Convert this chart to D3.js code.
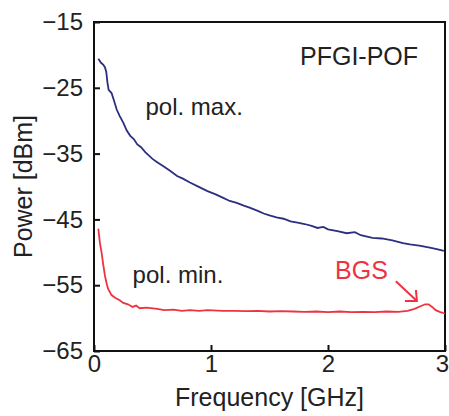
<!DOCTYPE html>
<html>
<head>
<meta charset="utf-8">
<script src="https://cdn.jsdelivr.net/npm/d3@7"></script>
<style>
  body { margin: 0; background: #fff; }
  text { font-family: 'Liberation Sans', Arial, sans-serif; fill: #222; }
</style>
</head>
<body>
<div id="chart"></div>
<script>
// frequency [GHz] and power [dBm]
let maxFreq = [0.037, 0.06, 0.08, 0.094, 0.105, 0.115, 0.125, 0.15, 0.17, 0.194, 0.22, 0.25, 0.28, 0.31, 0.34,
  0.37, 0.40, 0.44, 0.50, 0.54, 0.59, 0.65, 0.71, 0.76, 0.82, 0.90, 0.97, 1.04, 1.10, 1.16, 1.22, 1.28, 1.33,
  1.40, 1.45, 1.50, 1.56, 1.62, 1.68, 1.74, 1.80, 1.86, 1.91, 1.96, 2.00, 2.08, 2.16, 2.23, 2.28, 2.38, 2.46,
  2.55, 2.64, 2.70, 2.78, 2.87, 2.93, 2.99]
let maxPower = [-20.6, -21.2, -21.5, -21.9, -22.6, -24.2, -25.3, -25.8, -26.9, -28.3, -29.3, -30.3, -31.5, -32.3, -32.8,
  -33.6, -34.0, -34.8, -35.8, -36.3, -36.9, -37.6, -38.4, -38.8, -39.4, -40.1, -40.7, -41.2, -41.7, -42.2, -42.5, -42.9, -43.2,
  -43.7, -44.1, -44.4, -44.7, -44.9, -45.3, -45.5, -45.7, -46.0, -46.3, -46.15, -46.5, -46.8, -47.1, -46.95, -47.4, -47.8, -47.9,
  -48.2, -48.6, -48.8, -49.0, -49.3, -49.5, -49.8]

let minFreq = [0.037, 0.05, 0.066, 0.08, 0.094, 0.11, 0.122, 0.15, 0.18, 0.22, 0.25, 0.29, 0.33, 0.36, 0.39,
  0.45, 0.54, 0.60, 0.68, 0.75, 0.82, 0.90, 0.97, 1.1, 1.2, 1.3, 1.4, 1.5, 1.6, 1.7, 1.8, 1.9, 2.0, 2.1, 2.2,
  2.3, 2.4, 2.5, 2.6, 2.68, 2.74, 2.79, 2.83, 2.86, 2.89, 2.92, 2.96, 3.0]
let minPower = [-46.4, -48.5, -50.2, -52.0, -53.6, -54.9, -55.6, -56.5, -56.9, -57.3, -57.7, -57.9, -58.3, -58.1, -58.5,
  -58.4, -58.6, -58.8, -58.7, -58.9, -58.8, -58.9, -58.8, -58.9, -58.9, -58.95, -58.9, -59.0, -58.95, -59.0, -59.05, -59.0, -59.1, -59.0, -59.1,
  -59.05, -59.1, -59.0, -59.05, -58.9, -58.6, -58.2, -57.9, -57.9, -58.3, -58.8, -59.1, -59.3]

let xTicks = [0, 1, 2, 3]
let yTicks = [-15, -25, -35, -45, -55, -65]

let w = 449
let h = 416
let margin = { top: 22, right: 4, bottom: 65, left: 94 }

let svg = d3.select('#chart').append('svg')
  .attr('width', w)
  .attr('height', h)

let x = d3.scaleLinear().domain([0, 3]).range([margin.left, w - margin.right])
let y = d3.scaleLinear().domain([-65, -15]).range([h - margin.bottom, margin.top])

let xAxis = svg.append('g')
  .attr('transform', 'translate(0,' + (h - margin.bottom) + ')')
  .call(d3.axisBottom(x).tickValues(xTicks).tickFormat(d3.format('d')).tickSizeInner(-6).tickSizeOuter(0).tickPadding(4))
let yAxis = svg.append('g')
  .attr('transform', 'translate(' + margin.left + ',0)')
  .call(d3.axisLeft(y).tickValues(yTicks).tickSizeInner(-6).tickSizeOuter(0).tickPadding(11))

;[xAxis, yAxis].forEach(function (g) {
  g.select('.domain').remove()
  g.selectAll('line').attr('stroke', '#111').attr('stroke-width', 2)
  g.selectAll('text').style('font-size', '24px').attr('fill', '#222')
})
// last x label sits at the window edge, pull it in a little
xAxis.selectAll('.tick text').filter(function (d) { return d === 3 }).attr('dx', -3)

// frame
svg.append('rect')
  .attr('x', margin.left)
  .attr('y', margin.top)
  .attr('width', w - margin.left - margin.right)
  .attr('height', h - margin.top - margin.bottom)
  .attr('fill', 'none')
  .attr('stroke', '#111')
  .attr('stroke-width', 2)

let line = d3.line()
  .x(function (d) { return x(d[0]) })
  .y(function (d) { return y(d[1]) })

svg.append('path')
  .datum(d3.zip(maxFreq, maxPower))
  .attr('d', line)
  .attr('fill', 'none')
  .attr('stroke', '#2b2f7e')
  .attr('stroke-width', 1.8)

svg.append('path')
  .datum(d3.zip(minFreq, minPower))
  .attr('d', line)
  .attr('fill', 'none')
  .attr('stroke', '#ee3340')
  .attr('stroke-width', 1.8)

// labels
svg.append('text')
  .attr('x', (margin.left + w - margin.right) / 2)
  .attr('y', 406)
  .attr('text-anchor', 'middle')
  .style('font-size', '25px')
  .text('Frequency [GHz]')

svg.append('text')
  .attr('transform', 'translate(32,' + (margin.top + h - margin.bottom) / 2 + ') rotate(-90)')
  .attr('text-anchor', 'middle')
  .style('font-size', '25px')
  .text('Power [dBm]')

svg.append('text')
  .attr('x', 300)
  .attr('y', 65)
  .style('font-size', '25px')
  .text('PFGI-POF')

svg.append('text')
  .attr('x', x(0.44))
  .attr('y', y(-29.2))
  .style('font-size', '24px')
  .text('pol. max.')

svg.append('text')
  .attr('x', x(0.33))
  .attr('y', y(-54.7))
  .style('font-size', '24px')
  .text('pol. min.')

svg.append('text')
  .attr('x', x(2.06))
  .attr('y', y(-54.1))
  .style('font-size', '25px')
  .style('fill', '#ee3340')
  .text('BGS')

// arrow to the BGS peak
let a0 = [x(2.58), y(-54.4)]
let a1 = [x(2.76), y(-57.4)]
svg.append('path')
  .attr('d', 'M' + a0 + 'L' + a1 + 'M' + [a1[0] - 12, a1[1]] + 'L' + a1 + 'L' + [a1[0] - 1, a1[1] - 11])
  .attr('fill', 'none')
  .attr('stroke', '#ee3340')
  .attr('stroke-width', 2)
</script>
</body>
</html>
